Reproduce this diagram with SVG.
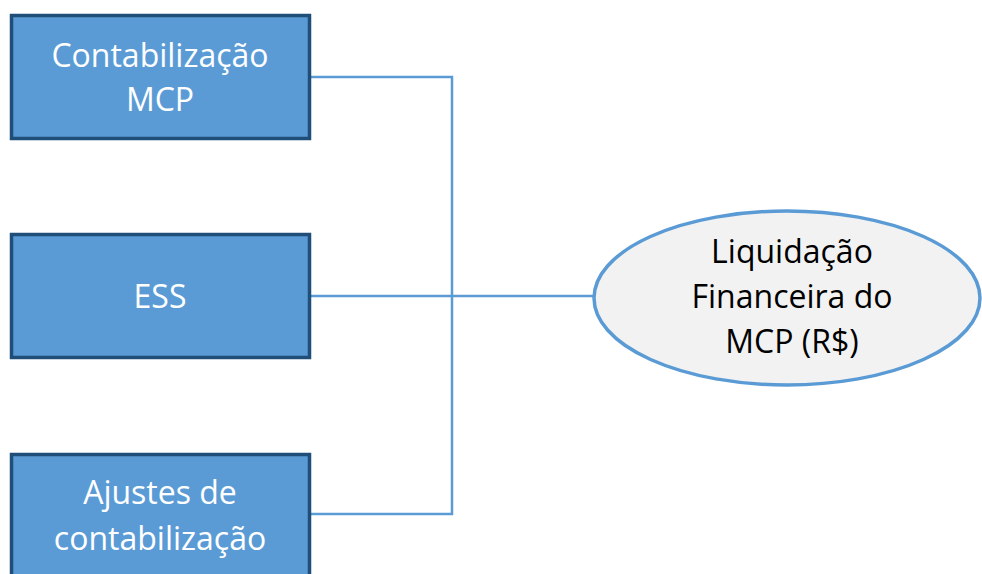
<svg xmlns="http://www.w3.org/2000/svg" width="982" height="574" viewBox="0 0 982 574">
  <style>
    .box { fill: #5b9bd5; stroke: #1f4e79; stroke-width: 3.5; }
    .box-text { fill: #ffffff; font-family: "Open Sans", "Noto Sans", sans-serif; font-size: 32px; text-anchor: middle; }
    .oval { fill: #f2f2f2; stroke: #5b9bd5; stroke-width: 3.5; }
    .oval-text { fill: #000000; font-family: "Open Sans", "Noto Sans", sans-serif; font-size: 32px; text-anchor: middle; }
    .wire { fill: none; stroke: #5b9bd5; stroke-width: 2.5; }
  </style>
  <rect width="982" height="574" fill="#ffffff"/>

  <g id="connectors">
    <polyline class="wire" points="311,77 452,77 452,514 311,514"/>
    <line class="wire" x1="311" y1="296" x2="593" y2="296"/>
  </g>

  <g id="contabilizacao-mcp">
    <rect class="box" x="11.5" y="15.5" width="298" height="123"/>
    <text class="box-text" x="160" y="67">Contabilização</text>
    <text class="box-text" x="160" y="111">MCP</text>
  </g>

  <g id="ess">
    <rect class="box" x="11.5" y="234.5" width="298" height="123"/>
    <text class="box-text" x="160" y="308">ESS</text>
  </g>

  <g id="ajustes-contabilizacao">
    <rect class="box" x="11.5" y="454.5" width="298" height="123"/>
    <text class="box-text" x="160" y="504">Ajustes de</text>
    <text class="box-text" x="160" y="550">contabilização</text>
  </g>

  <g id="liquidacao-financeira">
    <ellipse class="oval" cx="787" cy="298" rx="193" ry="87"/>
    <text class="oval-text" x="792" y="263">Liquidação</text>
    <text class="oval-text" x="792" y="308">Financeira do</text>
    <text class="oval-text" x="792" y="353">MCP (R$)</text>
  </g>
</svg>
